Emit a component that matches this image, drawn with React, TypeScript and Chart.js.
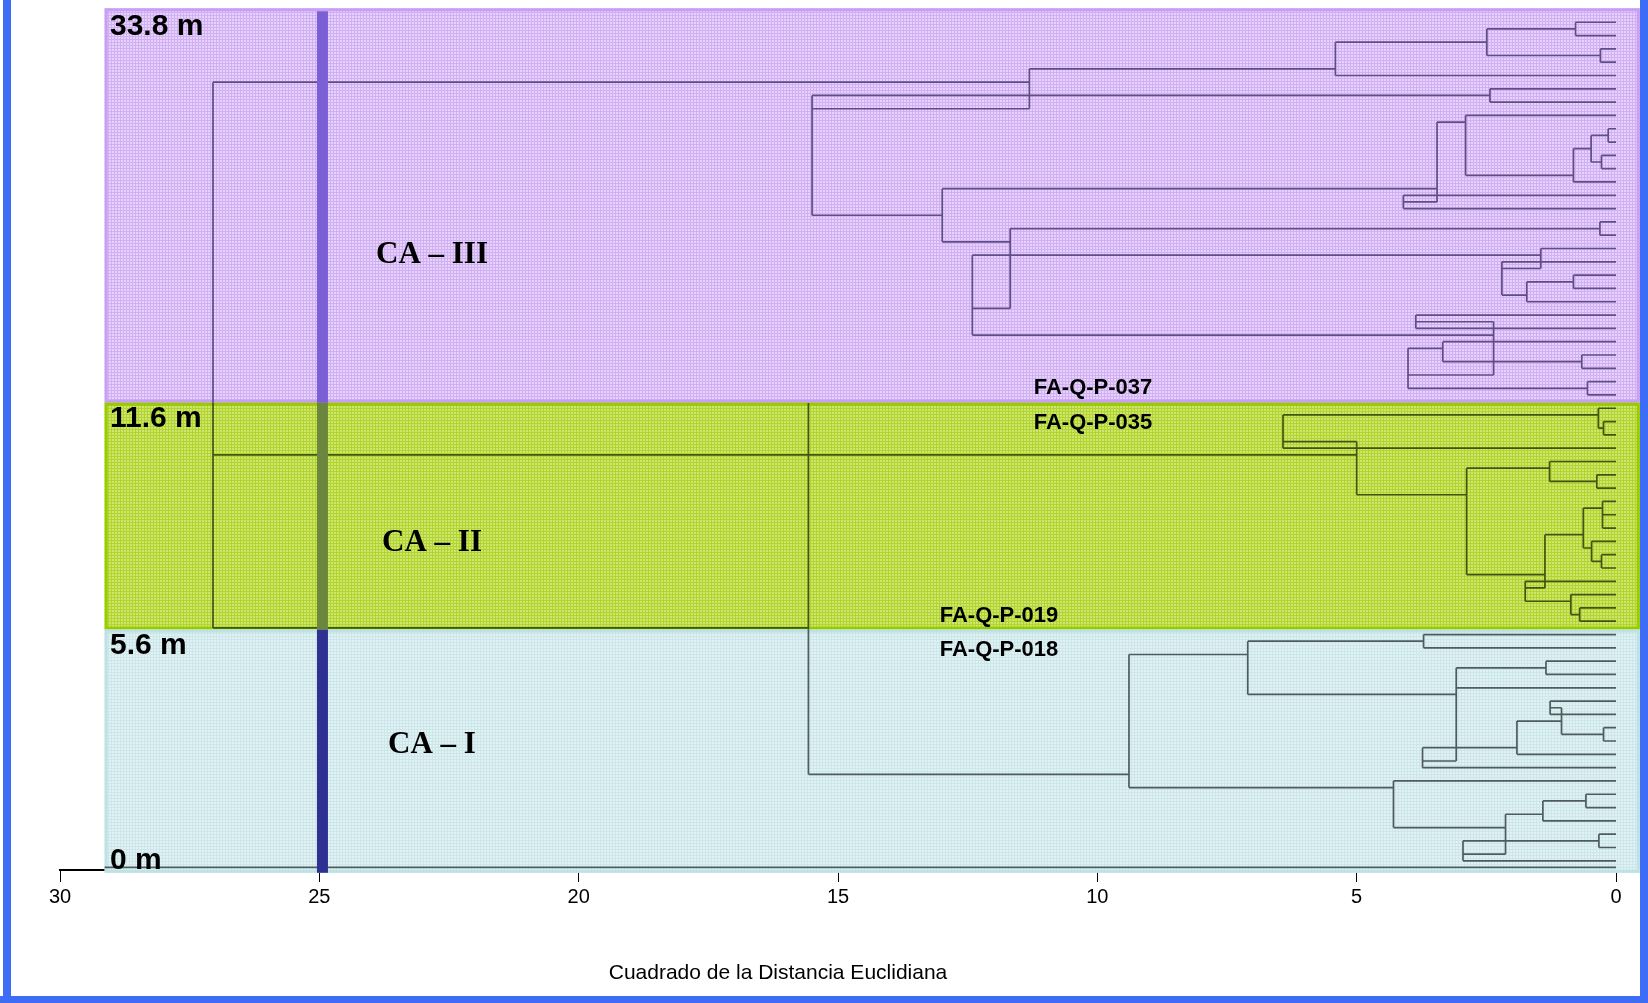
import React, { useEffect, useRef } from "react";
import { Chart, registerables } from "chart.js";

Chart.register(...registerables);

// ---------------- data ----------------
const xTicks = [30, 25, 20, 15, 10, 5, 0];
const axisTitle = "Cuadrado de la Distancia Euclidiana";
const cutDistance = 24.94;
const bandNames = ["CA – III", "CA – II", "CA – I"];
const depthLabels = ["33.8 m", "11.6 m", "5.6 m", "0 m"];
const sampleLabels = ["FA-Q-P-037", "FA-Q-P-035", "FA-Q-P-019", "FA-Q-P-018"];
// band limits in leaf-row units (64 leaves, rows 0..63)
const bandEdges = [-1.05, 28.59, 45.63, 63.9];
const bandSpan = [29.14, -0.46];

// horizontal links: [row, distance from, distance to]
const hSegs: number[][] = [
  // CA-III
  [0, 0.78, 0], [1, 0.78, 0], [2, 0.3, 0], [3, 0.3, 0], [0.5, 2.49, 0.78], [2.5, 2.49, 0.3],
  [1.5, 5.41, 2.49], [4, 5.41, 0], [3.5, 11.31, 5.41], [4.5, 27.05, 11.31], [6.5, 15.5, 11.31],
  [5, 2.43, 0], [6, 2.43, 0], [5.5, 15.5, 2.43], [7, 2.9, 0], [8, 0.15, 0], [9, 0.15, 0],
  [10, 0.28, 0], [11, 0.28, 0], [8.5, 0.48, 0.15], [10.5, 0.48, 0.28], [9.5, 0.82, 0.48],
  [12, 0.82, 0], [11.5, 2.9, 0.82], [7.5, 3.45, 2.9], [12.5, 12.99, 3.45], [13.5, 4.1, 3.45],
  [13, 4.1, 0], [14, 4.1, 0], [14.5, 15.5, 12.99], [15, 0.31, 0], [16, 0.31, 0],
  [15.5, 11.68, 0.31], [16.5, 12.99, 11.68], [17.5, 12.41, 1.45], [21.5, 12.41, 11.68],
  [23.5, 12.41, 2.36], [17, 1.45, 0], [18.5, 2.2, 1.45], [18, 2.2, 0], [20.5, 2.2, 1.72],
  [19, 0.82, 0], [20, 0.82, 0], [19.5, 1.72, 0.82], [21, 1.72, 0], [22, 3.86, 0], [23, 3.86, 0],
  [22.5, 3.86, 2.36], [24, 3.34, 0], [24.5, 4.01, 3.34], [25, 0.66, 0], [26, 0.66, 0],
  [25.5, 3.34, 0.66], [26.5, 4.01, 2.36], [27.5, 4.01, 0.55], [27, 0.55, 0], [28, 0.55, 0],
  // root links
  [32.5, 27.05, 5.0], [45.5, 27.05, 15.57],
  // CA-II
  [29, 0.34, 0], [30, 0.24, 0], [31, 0.24, 0], [30.5, 0.34, 0.24], [29.5, 6.42, 0.34],
  [32, 6.42, 0], [31.5, 6.42, 5.0], [35.5, 5.0, 2.88], [33, 1.28, 0], [33.5, 2.88, 1.28],
  [34, 0.37, 0], [35, 0.37, 0], [34.5, 1.28, 0.37], [36, 0.26, 0], [37, 0.26, 0], [38, 0.26, 0],
  [36.5, 0.63, 0.26], [38.5, 1.37, 0.63], [39, 0.47, 0], [39.5, 0.63, 0.47], [40, 0.28, 0],
  [41, 0.28, 0], [40.5, 0.47, 0.28], [41.5, 2.88, 1.37], [42, 1.75, 0], [42.5, 1.75, 1.37],
  [43, 0.87, 0], [43.5, 1.75, 0.87], [44, 0.7, 0], [45, 0.7, 0], [44.5, 0.87, 0.7],
  // CA-I
  [46, 3.71, 0], [47, 3.71, 0], [46.5, 7.1, 3.71], [47.5, 9.39, 7.1], [48, 1.35, 0], [49, 1.35, 0],
  [48.5, 3.08, 1.35], [50, 3.08, 0], [50.5, 7.1, 3.08], [51, 1.27, 0], [52, 1.27, 0],
  [51.5, 1.27, 1.05], [52.5, 1.91, 1.05], [53.5, 1.05, 0.24], [53, 0.24, 0], [54, 0.24, 0],
  [55, 1.91, 0], [54.5, 3.73, 1.91], [55.5, 3.73, 3.08], [56, 3.73, 0], [56.5, 15.57, 9.39],
  [57, 4.29, 0], [57.5, 9.39, 4.29], [58, 0.58, 0], [59, 0.58, 0], [58.5, 1.41, 0.58],
  [59.5, 2.13, 1.41], [60, 1.41, 0], [60.5, 4.29, 2.13], [61, 0.33, 0], [62, 0.33, 0],
  [61.5, 2.95, 0.33], [62.5, 2.95, 2.13], [63, 2.95, 0], [63.5, 29.14, 0],
];

// vertical links: [distance, row from, row to]
const vSegs: number[][] = [
  [0.78, 0, 1], [0.3, 2, 3], [2.49, 0.5, 2.5], [5.41, 1.5, 4], [11.31, 3.5, 6.5], [15.5, 5.5, 14.5],
  [2.43, 5, 6], [0.15, 8, 9], [0.28, 10, 11], [0.48, 8.5, 10.5], [0.82, 9.5, 12], [2.9, 7, 11.5],
  [3.45, 7.5, 13.5], [4.1, 13, 14], [12.99, 12.5, 16.5], [0.31, 15, 16], [11.68, 15.5, 21.5],
  [12.41, 17.5, 23.5], [1.45, 17, 18.5], [2.2, 18, 20.5], [0.82, 19, 20], [1.72, 19.5, 21],
  [3.86, 22, 23], [2.36, 22.5, 26.5], [3.34, 24, 25.5], [0.66, 25, 26], [4.01, 24.5, 27.5],
  [0.55, 27, 28],
  [27.05, 4.5, 45.5], [15.57, 28.6, 56.5],
  [0.34, 29, 30.5], [0.24, 30, 31], [6.42, 29.5, 32], [5.0, 31.5, 35.5], [1.28, 33, 34.5],
  [0.37, 34, 35], [2.88, 33.5, 41.5], [0.26, 36, 38], [0.63, 36.5, 39.5], [0.47, 39, 40.5],
  [0.28, 40, 41], [1.37, 38.5, 42.5], [1.75, 42, 43.5], [0.87, 43, 44.5], [0.7, 44, 45],
  [3.71, 46, 47], [7.1, 46.5, 50.5], [9.39, 47.5, 57.5], [1.35, 48, 49], [3.08, 48.5, 55.5],
  [1.27, 51, 52], [1.05, 51.5, 53.5], [0.24, 53, 54], [1.91, 52.5, 55], [3.73, 54.5, 56],
  [4.29, 57, 60.5], [0.58, 58, 59], [1.41, 58.5, 60], [2.13, 59.5, 62.5], [0.33, 61, 62],
  [2.95, 61.5, 63],
];

// ---------------- styles ----------------
const SANS = 'Arial, "Liberation Sans", sans-serif';
const SERIF = '"Times New Roman", "Liberation Serif", serif';
const lineColors = ["#5f4d84", "#3f5612", "#4e5c60"];
const bandStyles = [
  { base: "rgb(230,210,252)", line: "rgb(208,176,240)", border: "#c89ff4" },
  { base: "rgb(206,230,110)", line: "rgb(178,212,48)", border: "#99cc00" },
  { base: "rgb(224,242,243)", line: "rgb(204,230,233)", border: "#bde2e6" },
];
const barColors = ["rgb(122,96,212)", "rgb(108,134,62)", "rgb(46,49,146)"];

function bandOf(row: number) {
  if (row < bandEdges[1]) return 0;
  if (row < bandEdges[2]) return 1;
  return 2;
}

function buildDatasets() {
  const pts: any[][] = [[], [], []];
  const add = (b: number, x1: number, y1: number, x2: number, y2: number) => {
    pts[b].push({ x: x1, y: y1 }, { x: x2, y: y2 }, { x: x2, y: null });
  };
  hSegs.forEach(([r, a, b]) => add(bandOf(r), a, r, b, r));
  vSegs.forEach(([d, r1, r2]) => {
    const cuts = [r1, ...bandEdges.slice(1, 3).filter((e) => e > r1 && e < r2), r2];
    for (let i = 0; i < cuts.length - 1; i++) {
      add(bandOf((cuts[i] + cuts[i + 1]) / 2), d, cuts[i], d, cuts[i + 1]);
    }
  });
  return pts.map((data, i) => ({
    data,
    borderColor: lineColors[i],
    borderWidth: 1.7,
    pointRadius: 0,
    tension: 0,
    fill: false,
    spanGaps: false,
  }));
}

function makePattern(ctx: CanvasRenderingContext2D, base: string, line: string) {
  const c = document.createElement("canvas");
  c.width = 3;
  c.height = 3;
  const g = c.getContext("2d")!;
  g.fillStyle = base;
  g.fillRect(0, 0, 3, 3);
  g.fillStyle = line;
  g.fillRect(0, 0, 3, 1);
  g.fillRect(0, 0, 1, 3);
  return ctx.createPattern(c, "repeat")!;
}

const decor = {
  id: "decor",
  beforeDraw(chart: any) {
    const ctx = chart.ctx;
    ctx.save();
    ctx.fillStyle = "#ffffff";
    ctx.fillRect(0, 0, chart.width, chart.height);
    ctx.restore();
  },
  beforeDatasetsDraw(chart: any) {
    const ctx = chart.ctx;
    const xs = chart.scales.x;
    const ys = chart.scales.y;
    const left = xs.getPixelForValue(bandSpan[0]);
    const right = xs.getPixelForValue(bandSpan[1]);
    ctx.save();
    for (let i = 0; i < 3; i++) {
      const top = ys.getPixelForValue(bandEdges[i]);
      const bottom = ys.getPixelForValue(bandEdges[i + 1]);
      ctx.fillStyle = makePattern(ctx, bandStyles[i].base, bandStyles[i].line);
      ctx.fillRect(left, top, right - left, bottom - top);
      ctx.strokeStyle = bandStyles[i].border;
      ctx.lineWidth = 3;
      ctx.strokeRect(left + 1.5, top + 1.5, right - left - 3, bottom - top - 3);
    }
    ctx.restore();
  },
  afterDatasetsDraw(chart: any) {
    const ctx = chart.ctx;
    const xs = chart.scales.x;
    const ys = chart.scales.y;
    const cx = xs.getPixelForValue(cutDistance);
    ctx.save();
    for (let i = 0; i < 3; i++) {
      const top = ys.getPixelForValue(bandEdges[i]) + (i === 0 ? 3 : 0);
      const bottom = ys.getPixelForValue(bandEdges[i + 1]);
      ctx.fillStyle = barColors[i];
      ctx.fillRect(cx - 5.5, top, 11, bottom - top);
    }
    ctx.restore();
  },
  afterDraw(chart: any) {
    const ctx = chart.ctx;
    ctx.save();
    ctx.fillStyle = "#000";
    ctx.textBaseline = "alphabetic";
    // depth labels
    ctx.font = `bold 30px ${SANS}`;
    ctx.textAlign = "left";
    const depthY = [35, 427, 654, 869];
    depthLabels.forEach((t, i) => ctx.fillText(t, 110, depthY[i]));
    // cluster names
    ctx.font = `bold 31px ${SERIF}`;
    ctx.textAlign = "center";
    const nameY = [263, 551, 753];
    bandNames.forEach((t, i) => ctx.fillText(t, 432, nameY[i]));
    // sample labels
    ctx.font = `bold 22px ${SANS}`;
    const sx = [1093, 1093, 999, 999];
    const sy = [393.5, 428.5, 621.5, 656];
    sampleLabels.forEach((t, i) => ctx.fillText(t, sx[i], sy[i]));
    // axis title
    ctx.font = `21px ${SANS}`;
    ctx.fillText(axisTitle, 778, 979);
    // frame
    ctx.fillStyle = "#3d6cf6";
    ctx.fillRect(3, 0, 8, chart.height);
    ctx.fillRect(chart.width - 8, 0, 8, chart.height);
    ctx.fillRect(0, chart.height - 7, chart.width, 7);
    ctx.restore();
  },
};

export default function App() {
  const ref = useRef<HTMLCanvasElement>(null);
  useEffect(() => {
    const canvas = ref.current!;
    const chart = new Chart(canvas, {
      type: "line",
      data: { datasets: buildDatasets() as any },
      options: {
        responsive: false,
        animation: false,
        devicePixelRatio: 1,
        events: [],
        layout: { padding: { left: 60, right: 32, top: 8, bottom: 0 } },
        plugins: { legend: { display: false }, tooltip: { enabled: false }, title: { display: false } },
        scales: {
          x: {
            type: "linear",
            min: 0,
            max: 30,
            reverse: true,
            afterFit: (s: any) => {
              s.height = 133;
            },
            afterBuildTicks: (s: any) => {
              s.ticks = xTicks.map((v) => ({ value: v }));
            },
            ticks: {
              autoSkip: false,
              maxRotation: 0,
              padding: 3,
              color: "#000",
              font: { family: SANS, size: 20 },
              callback: (v: any) => String(v),
            },
            grid: { drawOnChartArea: false, drawTicks: true, tickLength: 12, color: "#000", lineWidth: 1 },
            border: { display: true, color: "#000", width: 2 },
          },
          y: {
            type: "linear",
            display: false,
            reverse: true,
            min: bandEdges[0] - 0.02,
            max: 63.69,
          },
        },
      } as any,
      plugins: [decor],
    });
    return () => chart.destroy();
  }, []);
  return (
    <canvas
      ref={ref}
      width={1648}
      height={1003}
      style={{ position: "fixed", left: 0, top: 0, width: "1648px", height: "1003px" }}
    />
  );
}
